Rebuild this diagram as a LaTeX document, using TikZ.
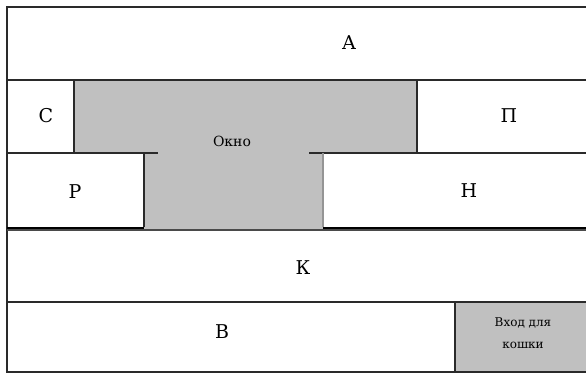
\documentclass[tikz,border=0pt]{standalone}
\usepackage{fontspec}
\setmainfont{DejaVu Serif}
\definecolor{win}{HTML}{C0C0C0}
\definecolor{ln}{HTML}{2A2A2A}
\begin{document}
\begin{tikzpicture}[x=1pt,y=-1pt,
  wall/.style={draw=ln,line width=1.4pt},
  lbl/.style={font=\fontsize{19}{19}\selectfont,text=black,inner sep=0pt},
  small/.style={font=\fontsize{12}{22}\selectfont,text=black,inner sep=0pt,align=center}]
\useasboundingbox (0,0) rectangle (586,373);
\clip (0,0) rectangle (586,373);
\fill[white] (0,0) rectangle (586,373);
% window and cat door
\fill[win] (74,80) -- (417,80) -- (417,153) -- (323,153) -- (323,229) -- (144,229) -- (144,153) -- (74,153) -- cycle;
\fill[win] (455,302) rectangle (590,372);
% outer frame
\draw[wall] (590,7) -- (7,7) -- (7,372) -- (590,372);
% horizontal walls
\draw[wall] (7,80) -- (590,80);
\draw[wall] (7,153) -- (158,153);
\draw[wall] (309,153) -- (590,153);
\draw[wall,line width=2pt,draw=black] (7,227.5) -- (144,227.5);
\draw[wall,line width=2pt,draw=black] (323,227.5) -- (590,227.5);
\draw[wall,line width=1.5pt,draw=ln!85] (7,229.8) -- (590,229.8);
\draw[wall] (7,302) -- (590,302);
% vertical walls
\draw[wall] (74,80) -- (74,153);
\draw[wall] (417,80) -- (417,153);
\draw[wall] (144,153) -- (144,227);
\draw[wall,draw=ln!50] (323,153) -- (323,227);
\draw[wall] (455,302) -- (455,372);
% labels
\node[lbl] (a) at (349,43) {А};
\node[lbl] (c) at (46,116) {С};
\node[small,font=\fontsize{14}{14}\selectfont] (w) at (232,141) {Окно};
\node[lbl] (p) at (509,116) {П};
\node[lbl] (r) at (75,192) {Р};
\node[lbl] (n) at (469,191) {Н};
\node[lbl] (k) at (303,268) {К};
\node[lbl] (b) at (222,332) {В};
\node[small] (d) at (523,333) {Вход для\\кошки};
\end{tikzpicture}
\end{document}
